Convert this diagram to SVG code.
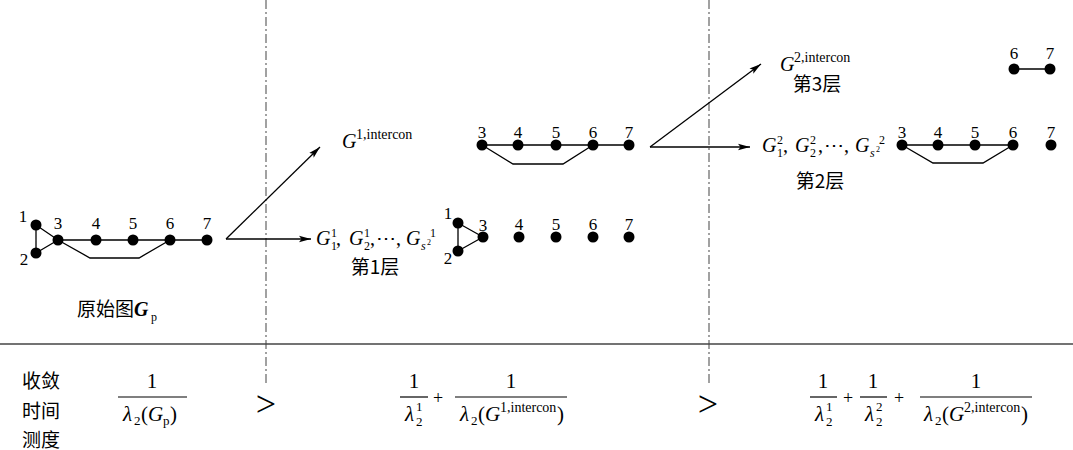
<svg xmlns="http://www.w3.org/2000/svg" width="1073" height="450" viewBox="0 0 1073 450">
<style>
.e{stroke:#000;stroke-width:1.3;fill:none}
.a{stroke:#000;stroke-width:1.3;fill:none;marker-end:url(#ah)}
.dd{stroke:#555;stroke-width:1.1;stroke-dasharray:9 3 2 3;fill:none}
.hl{stroke:#444;stroke-width:1.5}
.bar{stroke:#000;stroke-width:1.2}
circle{fill:#000}
text{font-family:"Liberation Serif","Times New Roman",serif;fill:#000}
.lb{font-size:17px;text-anchor:middle}
.G{font-size:20px;font-style:italic}
.r{font-size:20px}
.s{font-size:12px}
.si{font-size:12px;font-style:italic}
.ss{font-size:8px}
.sup{font-size:14px}
.cjk{font-family:"Noto Sans CJK SC",sans-serif;font-size:19px}
.f{font-size:21px}
.fi{font-size:21px;font-style:italic}
.fs{font-size:13px}
.gt{font-size:36px;text-anchor:middle}
.pl{font-size:18px;text-anchor:middle}
</style>
<defs>
<marker id="ah" markerUnits="userSpaceOnUse" markerWidth="13" markerHeight="8" refX="12" refY="4" orient="auto">
<path d="M0,0.8 L12,4 L0,7.2 L2.5,4 Z" fill="#000"/>
</marker>
</defs>

<g id="separators">
<line class="dd" x1="266" y1="0" x2="266" y2="384"/>
<line class="dd" x1="709" y1="0" x2="709" y2="384"/>
<line class="hl" x1="0" y1="344" x2="1073" y2="344"/>
</g>

<g id="connectors">
<path class="e" d="M36,225 L36,253 M36,225 L58,240 M36,253 L58,240 M58,240 H207 M58,240 L90,258 H139 L170,240"/>
<path class="e" d="M482,145 H629 M482,145 L513,164 H563 L593,145"/>
<path class="e" d="M458,223 L458,251 M458,223 L483,237 M458,251 L483,237"/>
<path class="e" d="M1014,69 H1050"/>
<path class="e" d="M902,145 H1013 M902,145 L933,163 H983 L1013,145"/>
<path class="a" d="M226,239 L320,147"/>
<path class="a" d="M226,239 H311"/>
<path class="a" d="M650,147 L761,64"/>
<path class="a" d="M650,147 H750"/>
</g>

<g id="p1"><circle cx="36" cy="225" r="5.5"/><text class="lb" x="23" y="222">1</text></g>
<g id="p2"><circle cx="36" cy="253" r="5.5"/><text class="lb" x="24" y="265">2</text></g>
<g id="p3"><circle cx="58" cy="240" r="5.5"/><text class="lb" x="58" y="229">3</text></g>
<g id="p4"><circle cx="96" cy="240" r="5.5"/><text class="lb" x="96" y="229">4</text></g>
<g id="p5"><circle cx="133" cy="240" r="5.5"/><text class="lb" x="133" y="229">5</text></g>
<g id="p6"><circle cx="170" cy="240" r="5.5"/><text class="lb" x="170" y="229">6</text></g>
<g id="p7"><circle cx="207" cy="240" r="5.5"/><text class="lb" x="207" y="229">7</text></g>
<g id="p-label"><text class="cjk" x="77" y="316">原始图</text><text x="134" y="316" style="font-size:20px;font-style:italic;font-weight:bold">G</text><text class="s" x="151" y="321">p</text></g>

<g id="a3"><circle cx="482" cy="145" r="5.5"/><text class="lb" x="482" y="138">3</text></g>
<g id="a4"><circle cx="518" cy="145" r="5.5"/><text class="lb" x="518" y="138">4</text></g>
<g id="a5"><circle cx="556" cy="145" r="5.5"/><text class="lb" x="556" y="138">5</text></g>
<g id="a6"><circle cx="593" cy="145" r="5.5"/><text class="lb" x="593" y="138">6</text></g>
<g id="a7"><circle cx="629" cy="145" r="5.5"/><text class="lb" x="629" y="138">7</text></g>
<g id="a-label"><text class="G" x="342" y="148">G</text><text class="sup" x="356" y="139">1,intercon</text></g>

<g id="b1"><circle cx="458" cy="223" r="5.5"/><text class="lb" x="448" y="219">1</text></g>
<g id="b2"><circle cx="458" cy="251" r="5.5"/><text class="lb" x="448" y="264">2</text></g>
<g id="b3"><circle cx="483" cy="237" r="5.5"/><text class="lb" x="483" y="231">3</text></g>
<g id="b4"><circle cx="519" cy="237" r="5.5"/><text class="lb" x="519" y="230">4</text></g>
<g id="b5"><circle cx="556" cy="237" r="5.5"/><text class="lb" x="556" y="230">5</text></g>
<g id="b6"><circle cx="593" cy="237" r="5.5"/><text class="lb" x="593" y="230">6</text></g>
<g id="b7"><circle cx="629" cy="237" r="5.5"/><text class="lb" x="629" y="230">7</text></g>
<g id="b-label">
<text class="G" x="316" y="245">G</text><text class="s" x="331" y="237">1</text><text class="s" x="331" y="250">1</text><text class="r" x="336" y="245">,</text>
<text class="G" x="349" y="245">G</text><text class="s" x="364" y="237">1</text><text class="s" x="364" y="250">2</text><text class="r" x="370" y="245">,</text>
<text class="r" x="376" y="245">⋯</text><text class="r" x="396" y="245">,</text>
<text class="G" x="406" y="245">G</text><text class="si" x="421" y="250">s</text><text class="ss" x="427" y="245">2</text><text class="s" x="430" y="237">1</text>
<text class="cjk" x="375" y="274" text-anchor="middle">第1层</text>
</g>

<g id="c6"><circle cx="1014" cy="69" r="5.5"/><text class="lb" x="1014" y="59">6</text></g>
<g id="c7"><circle cx="1050" cy="69" r="5.5"/><text class="lb" x="1050" y="59">7</text></g>
<g id="c-label"><text class="G" x="780" y="71">G</text><text class="sup" x="794" y="62">2,intercon</text>
<text class="cjk" x="817" y="91" text-anchor="middle">第3层</text></g>

<g id="d3"><circle cx="902" cy="145" r="5.5"/><text class="lb" x="902" y="138">3</text></g>
<g id="d4"><circle cx="938" cy="145" r="5.5"/><text class="lb" x="938" y="138">4</text></g>
<g id="d5"><circle cx="975" cy="145" r="5.5"/><text class="lb" x="975" y="138">5</text></g>
<g id="d6"><circle cx="1013" cy="145" r="5.5"/><text class="lb" x="1013" y="138">6</text></g>
<g id="d7"><circle cx="1051" cy="145" r="5.5"/><text class="lb" x="1051" y="138">7</text></g>
<g id="d-label">
<text class="G" x="762" y="152">G</text><text class="s" x="777" y="144">2</text><text class="s" x="777" y="157">1</text><text class="r" x="783" y="152">,</text>
<text class="G" x="795" y="152">G</text><text class="s" x="810" y="144">2</text><text class="s" x="810" y="157">2</text><text class="r" x="818" y="152">,</text>
<text class="r" x="824" y="152">⋯</text><text class="r" x="844" y="152">,</text>
<text class="G" x="855" y="152">G</text><text class="si" x="870" y="157">s</text><text class="ss" x="876" y="152">2</text><text class="s" x="879" y="144">2</text>
<text class="cjk" x="820" y="188" text-anchor="middle">第2层</text>
</g>

<g id="measure-label">
<text class="cjk" x="22" y="388">收敛</text>
<text class="cjk" x="22" y="418">时间</text>
<text class="cjk" x="22" y="447">测度</text>
</g>
<g id="formula1">
<text class="f" x="152" y="388" text-anchor="middle">1</text>
<line class="bar" x1="118" y1="397" x2="187" y2="397"/>
<text class="fi" x="123" y="421">λ</text><text class="fs" x="134" y="425">2</text><text class="f" x="141" y="421">(</text><text class="fi" x="148" y="421">G</text><text class="fs" x="163" y="425">p</text><text class="f" x="170" y="421">)</text>
</g>
<g id="gt1"><text class="gt" x="266" y="416">&gt;</text></g>
<g id="formula2">
<text class="f" x="414" y="388" text-anchor="middle">1</text>
<line class="bar" x1="400" y1="397" x2="428" y2="397"/>
<text class="fi" x="405" y="421">λ</text><text class="fs" x="416" y="411">1</text><text class="fs" x="416" y="426">2</text>
<text class="pl" x="438" y="404">+</text>
<text class="f" x="511" y="388" text-anchor="middle">1</text>
<line class="bar" x1="455" y1="397" x2="567" y2="397"/>
<text class="fi" x="460" y="421">λ</text><text class="fs" x="471" y="425">2</text><text class="f" x="478" y="421">(</text><text class="fi" x="485" y="421">G</text><text class="sup" x="500" y="412">1,intercon</text><text class="f" x="557" y="421">)</text>
</g>
<g id="gt2"><text class="gt" x="708" y="416">&gt;</text></g>
<g id="formula3">
<text class="f" x="823" y="388" text-anchor="middle">1</text>
<line class="bar" x1="810" y1="397" x2="837" y2="397"/>
<text class="fi" x="815" y="421">λ</text><text class="fs" x="826" y="411">1</text><text class="fs" x="826" y="426">2</text>
<text class="pl" x="848" y="404">+</text>
<text class="f" x="873" y="388" text-anchor="middle">1</text>
<line class="bar" x1="860" y1="397" x2="887" y2="397"/>
<text class="fi" x="865" y="421">λ</text><text class="fs" x="876" y="411">2</text><text class="fs" x="876" y="426">2</text>
<text class="pl" x="899" y="404">+</text>
<text class="f" x="976" y="388" text-anchor="middle">1</text>
<line class="bar" x1="920" y1="397" x2="1032" y2="397"/>
<text class="fi" x="924" y="421">λ</text><text class="fs" x="935" y="425">2</text><text class="f" x="942" y="421">(</text><text class="fi" x="949" y="421">G</text><text class="sup" x="964" y="412">2,intercon</text><text class="f" x="1021" y="421">)</text>
</g>
</svg>
